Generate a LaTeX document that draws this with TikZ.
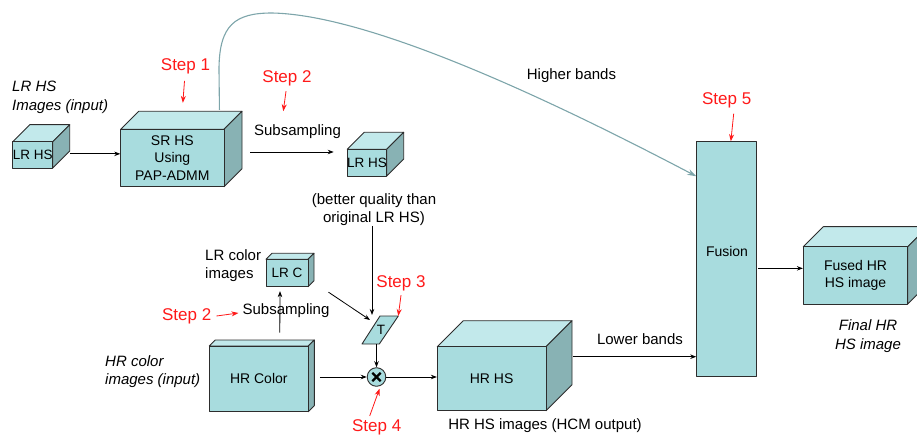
\documentclass[tikz,border=0pt]{standalone}
\usepackage{fontspec}
\setmainfont{Liberation Sans}
\usetikzlibrary{arrows.meta,calc}
\definecolor{cfront}{RGB}{168,220,222}
\definecolor{ctop}{RGB}{194,233,235}
\definecolor{cside}{RGB}{136,178,180}
\definecolor{cedge}{RGB}{45,45,45}
\definecolor{ccurve}{RGB}{125,165,170}
\definecolor{cred}{RGB}{255,25,25}
\newcommand\boxfont{\fontsize{14}{17.5}\selectfont}
\newcommand\smallboxfont{\fontsize{13.5}{16}\selectfont}
\newcommand\lblfont{\fontsize{15}{18.5}\selectfont}
\newcommand\stepfont{\fontsize{17}{20}\selectfont}
\tikzset{
 edge/.style={draw=cedge,line width=0.9pt,line join=round},
 face/.style={edge,fill=cfront,inner sep=0pt,align=center,font=\boxfont},
 arr/.style={draw=black,line width=0.8pt,-{Stealth[length=6pt,width=4.5pt]}},
 redarr/.style={draw=cred,line width=0.8pt,-{Stealth[length=7pt,width=5pt]}},
 curvearr/.style={draw=ccurve,line width=1.1pt,-{Stealth[length=9pt,width=6pt]}},
 lbl/.style={inner sep=0pt,align=center,font=\lblfont},
 ilbl/.style={inner sep=0pt,align=left,font=\lblfont\itshape},
 steplbl/.style={inner sep=0pt,text=cred,font=\stepfont},
}
% #1 name, #2 x1, #3 y1, #4 x2, #5 y2, #6 depth, #7 extra options, #8 text
\newcommand\cube[8]{%
  \filldraw[edge,fill=ctop] (#2,#3) -- ({#2+#6},{#3-#6}) -- ({#4+#6},{#3-#6}) -- (#4,#3) -- cycle;
  \filldraw[edge,fill=cside] (#4,#3) -- ({#4+#6},{#3-#6}) -- ({#4+#6},{#5-#6}) -- (#4,#5) -- cycle;
  \node[face,minimum width={(#4-#2)*1pt},minimum height={(#5-#3)*1pt},#7] (#1) at ({(#2+#4)/2},{(#3+#5)/2}) {#8};
}
\begin{document}
\begin{tikzpicture}[x=1pt,y=-1pt]
\useasboundingbox (0,0) rectangle (917,435);

\cube{lrhsin}{12.7}{141.7}{52.7}{168}{17}{font=\smallboxfont}{LR HS}
\cube{srhs}{120.7}{129.3}{224}{186.7}{18}{}{SR HS\\Using\\PAP-ADMM}
\cube{lrhsmid}{347.3}{149.3}{386.7}{176}{17}{font=\smallboxfont}{LR HS}
\cube{lrc}{266}{259.3}{308}{286.7}{6}{font=\smallboxfont}{LR C}
\cube{hrcolor}{209.3}{346}{308.3}{411.7}{6}{}{HR Color}
\cube{hrhs}{437.3}{346.7}{546}{410.7}{26}{}{HR HS}
\cube{fused}{803.3}{246.7}{907.7}{304}{20}{}{Fused HR\\HS image}

\node[edge,fill=cfront,minimum width=59.3pt,minimum height=235pt,inner sep=0pt] (fusion) at (726.35,259.2) {};
\node[inner sep=0pt,font=\boxfont] (fusiontxt) at (727,251) {Fusion};

% T parallelogram
\coordinate (Ttl) at (380,316);
\coordinate (Ttr) at (398.3,316);
\coordinate (Tbr) at (379.3,344);
\coordinate (Tbl) at (362,344);
\filldraw[edge,fill=cfront] (Ttl) -- (Ttr) -- (Tbr) -- (Tbl) -- cycle;
\node[inner sep=0pt,font=\smallboxfont] (T) at (381,330) {T};

% multiply circle
\node[edge,fill=cfront,circle,minimum size=18.6pt,inner sep=0pt] (mult) at (376.5,377) {};
\draw[line width=2.2pt] ($(mult.center)+(-4.2,-4.2)$) -- ($(mult.center)+(4.2,4.2)$);
\draw[line width=2.2pt] ($(mult.center)+(-4.2,4.2)$) -- ($(mult.center)+(4.2,-4.2)$);

% text labels
\node[ilbl,anchor=west] (lrhslbl) at (12,97.5) {LR HS\\Images (input)};
\node[ilbl,anchor=west] (hrclbl) at (105,371.5) {HR color\\images (input)};
\node[lbl,anchor=west,align=left,font=\fontsize{15}{17.5}\selectfont] (lrclbl) at (205,265.5) {LR color\\images};
\node[lbl] (sub1) at (297.5,131.5) {Subsampling};
\node[lbl] (sub2) at (286,311) {Subsampling};
\node[lbl] (better) at (374,209.5) {(better quality than\\original LR HS)};
\node[lbl] (higher) at (571.5,75.5) {Higher bands};
\node[lbl] (lower) at (640,339) {Lower bands};
\node[lbl] (hrhslbl) at (545,426) {HR HS images (HCM output)};
\node[lbl,font=\lblfont\itshape] (finallbl) at (868,336) {Final HR\\HS image};

% step labels
\node[steplbl] (step1) at (185.5,66) {Step 1};
\node[steplbl] (step2a) at (287,78.3) {Step 2};
\node[steplbl] (step2b) at (186.7,316) {Step 2};
\node[steplbl] (step3) at (401,283.3) {Step 3};
\node[steplbl,anchor=base] (step4) at (376.7,431) {Step 4};
\node[steplbl] (step5) at (726.7,100.7) {Step 5};

% connectors
\coordinate (a1) at ($(lrhsin.east)+(17,-1)$);
\draw[arr] (a1) -- (a1 -| srhs.west);
\coordinate (ss) at ($(srhs.east)+(26,-6)$);
\draw[arr] (ss) -- ($(ss -| lrhsmid.west)+(-13,0)$);
\coordinate (Tin) at (372,315);
\draw[arr] (better.south -| Tin) -- (Tin);
\draw[arr] ($(lrc.south east)+(20,5)$) -- (370,320);
\draw[arr] ($(hrcolor.north)+(21,-13)$) -- ($(lrc.south)+(-7,4)$);
\draw[arr] ($(hrcolor.east |- mult.west)+(11,0)$) -- (mult.west);
\draw[arr] (Tbl -| mult.north) -- (mult.north);
\draw[arr] (mult.east) -- (mult.east -| hrhs.west);
\coordinate (lb) at ($(hrhs.east)+(27,-22)$);
\draw[arr] (lb) -- (lb -| fusion.west);
\coordinate (fs) at ($(fusion.east |- fused.west)+(2,-7)$);
\draw[arr] (fs) -- (fs -| fused.west);

% higher bands curve
\coordinate (hb) at ($(srhs.north east)+(-5,-19)$);
\coordinate (hbend) at ($(fusion.north west)+(0,35)$);
\draw[curvearr] (hb) -- (219,70) .. controls (219,25) and (235,13) .. (272,13)
  .. controls (380,15) and (585,118) .. (hbend);

% red step arrows
\draw[redarr] ($(step1.south)+(-1,7)$) -- ($(srhs.north)+(10.5,-26)$);
\draw[redarr] ($(step2a.south)+(-1,5)$) -- ($(step2a.south)+(-3.7,25)$);
\draw[redarr] ($(step2b.east)+(5,0)$) -- ($(sub2.west)+(-4,2)$);
\draw[redarr] ($(step3.south)+(0,4)$) -- (Ttr);
\draw[redarr] ($(step4.north)+(-7,-3)$) -- ($(mult.south)+(3,2)$);
\draw[redarr] ($(step5.south)+(7,5)$) -- ($(fusion.north)+(4.5,0)$);
\end{tikzpicture}
\end{document}
